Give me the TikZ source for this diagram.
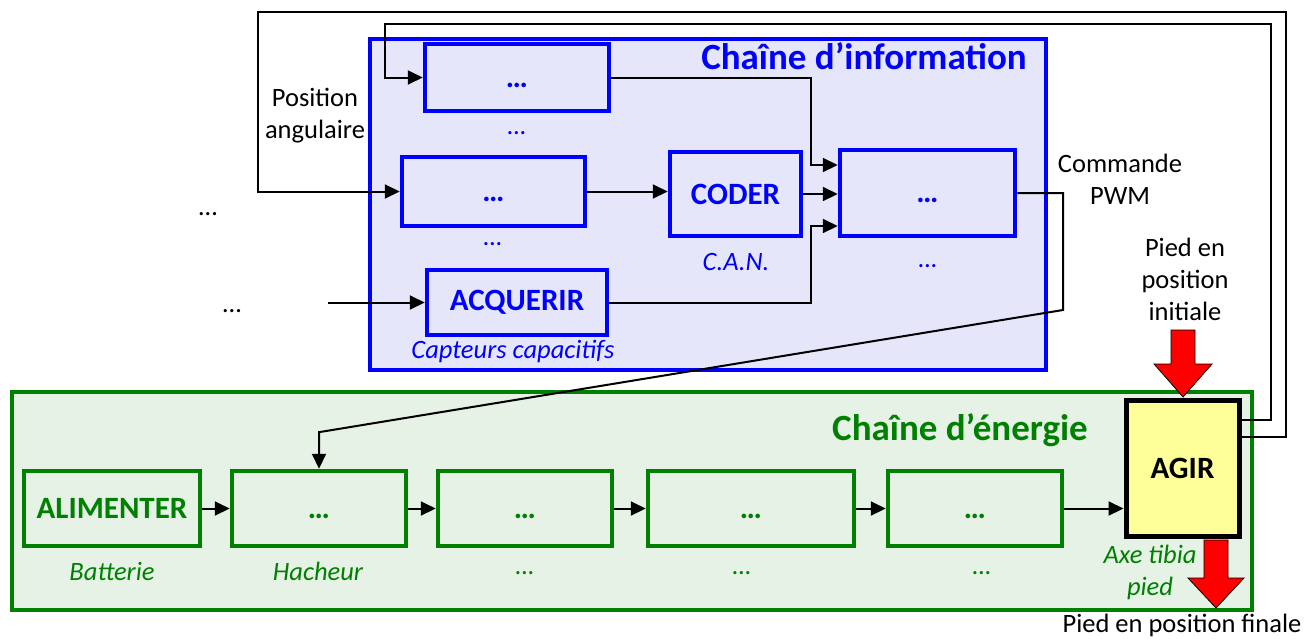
\documentclass[tikz,border=0pt]{standalone}
\usepackage{fontspec}
\setmainfont{Carlito}
\usetikzlibrary{arrows.meta}
\definecolor{infoblue}{RGB}{0,0,255}
\definecolor{infofill}{RGB}{230,230,250}
\definecolor{engreen}{RGB}{0,128,0}
\definecolor{enfill}{RGB}{230,242,230}
\definecolor{agirfill}{RGB}{255,255,153}
\newcommand{\dotsbox}{\vphantom{A}…}
\begin{document}
\begin{tikzpicture}[x=1pt,y=-1pt,
  chainbox/.style={line width=4pt, inner sep=0pt},
  infobox/.style={draw=infoblue, line width=4.5pt, fill=infofill, inner sep=0pt, text=infoblue,
     font=\fontsize{31}{34}\selectfont\bfseries},
  enbox/.style={draw=engreen, line width=4.5pt, fill=enfill, inner sep=0pt, text=engreen,
     font=\fontsize{31}{34}\selectfont\bfseries},
  lbl/.style={font=\fontsize{26.5}{32}\selectfont, align=center, inner sep=0pt},
  ilbl/.style={font=\fontsize{26.5}{32}\selectfont\itshape, align=center, inner sep=0pt},
  conn/.style={line width=2pt, draw=black},
  arr/.style={conn, -{Triangle[length=15pt,width=14pt]}},
  bigarrow/.style={draw=black, line width=0.8pt, fill=red}
]
\useasboundingbox (0,0) rectangle (1316,638);
% chain containers
\node[chainbox, draw=infoblue, fill=infofill, minimum width=676pt, minimum height=331pt] (info) at (708,204.5) {};
\node[chainbox, draw=engreen, fill=enfill, minimum width=1240pt, minimum height=218pt] (energy) at (632,501) {};
\node[text=infoblue, font=\fontsize{37}{40}\selectfont\bfseries, inner sep=0pt] (infotitle) at (864,56) {Chaîne d’information};
\node[text=engreen, font=\fontsize{37}{40}\selectfont\bfseries, inner sep=0pt] (entitle) at (960,430) {Chaîne d’énergie};
% information boxes
\node[infobox, minimum width=184pt, minimum height=67pt] (b1) at (517,77.5) {\dotsbox};
\node[infobox, minimum width=183pt, minimum height=69pt] (b2) at (493.5,191.5) {\dotsbox};
\node[infobox, minimum width=131pt, minimum height=84pt] (coder) at (735.5,194) {CODER};
\node[infobox, minimum width=175pt, minimum height=86pt] (b4) at (927.5,193) {\dotsbox};
\node[infobox, minimum width=180pt, minimum height=65pt] (acq) at (517,302.5) {ACQUERIR};
\node[ilbl, text=infoblue] (l1) at (517,133) {…};
\node[ilbl, text=infoblue] (l2) at (493,244) {…};
\node[ilbl, text=infoblue] (l3) at (736,262) {C.A.N.};
\node[ilbl, text=infoblue] (l4) at (928,266) {…};
\node[ilbl, text=infoblue] (l5) at (513,351) {Capteurs capacitifs};
% energy boxes
\node[enbox, minimum width=176pt, minimum height=75pt] (g1) at (112,508.5) {ALIMENTER};
\node[enbox, minimum width=174pt, minimum height=75pt] (g2) at (319,508.5) {\dotsbox};
\node[enbox, minimum width=174pt, minimum height=75pt] (g3) at (525,508.5) {\dotsbox};
\node[enbox, minimum width=206pt, minimum height=75pt] (g4) at (751,508.5) {\dotsbox};
\node[enbox, minimum width=174pt, minimum height=75pt] (g5) at (975,508.5) {\dotsbox};
\node[draw=black, line width=5pt, fill=agirfill, inner sep=0pt, minimum width=113pt, minimum height=136pt,
  font=\fontsize{31}{34}\selectfont\bfseries] (agir) at (1182.5,468) {AGIR};
\node[ilbl, text=engreen] (e1) at (112,571) {Batterie};
\node[ilbl, text=engreen] (e2) at (318,571) {Hacheur};
\node[ilbl, text=engreen] (e3) at (525,573) {…};
\node[ilbl, text=engreen] (e4) at (742,573) {…};
\node[ilbl, text=engreen] (e5) at (982,573) {…};
\node[ilbl, text=engreen] (e6) at (1150,572) {Axe tibia\\pied};
% black labels
\node[lbl] (pos) at (315,116) {Position\\angulaire};
\node[lbl] (pwm) at (1120,179) {Commande\\PWM};
\node[lbl] (pinit) at (1185,279) {Pied en\\position\\initiale};
\node[lbl] (pfin) at (1182,625) {Pied en position finale};
\node[lbl] (d1) at (208,214) {…};
\node[lbl] (d2) at (232,311) {…};
% coordinates
\coordinate (j1) at (811,0);
\coordinate (c1) at (1271,24);
\coordinate (c2) at (385,24);
\coordinate (c3) at (1286,12);
\coordinate (c4) at (258,12);
\coordinate (s3) at (328,302.5);
\coordinate (p1) at (1063,193);
\coordinate (p2) at (1063,310);
\coordinate (p3) at (320,432);
% information connectors
\draw[arr] (b2.east) -- (b2.east -| coder.west);
\draw[arr] (coder.east) -- (coder.east -| b4.west);
\draw[arr] (b1.east) -- (b1.east -| j1) |- ([yshift=28pt]b4.west);
\draw[arr] (acq.east) -- (acq.east -| j1) |- ([yshift=-33pt]b4.west);
\draw[arr] (s3) -- (acq.west);
\draw[arr] ([yshift=48pt]agir.east) -| (c1) -| (c2) |- (b1.west);
\draw[arr] ([yshift=31pt]agir.east) -| (c3) -| (c4) |- (b2.west);
\draw[arr] (b4.east) -- (p1) -- (p2) -- (p3) -- (p3 -| g2.north) -- (g2.north);
% energy connectors
\draw[arr] (g1) -- (g2);
\draw[arr] (g2) -- (g3);
\draw[arr] (g3) -- (g4);
\draw[arr] (g4) -- (g5);
\draw[arr] (g5.east) -- (g5.east -| agir.west);
% red arrows
\draw[bigarrow] (1171,330) -- (1195,330) -- (1195,364) -- (1212,364) -- (1183,397) -- (1154,364) -- (1171,364) -- cycle;
\draw[bigarrow] (1204,540) -- (1228,540) -- (1228,578) -- (1244,578) -- (1216,608) -- (1188,578) -- (1204,578) -- cycle;
\end{tikzpicture}
\end{document}
